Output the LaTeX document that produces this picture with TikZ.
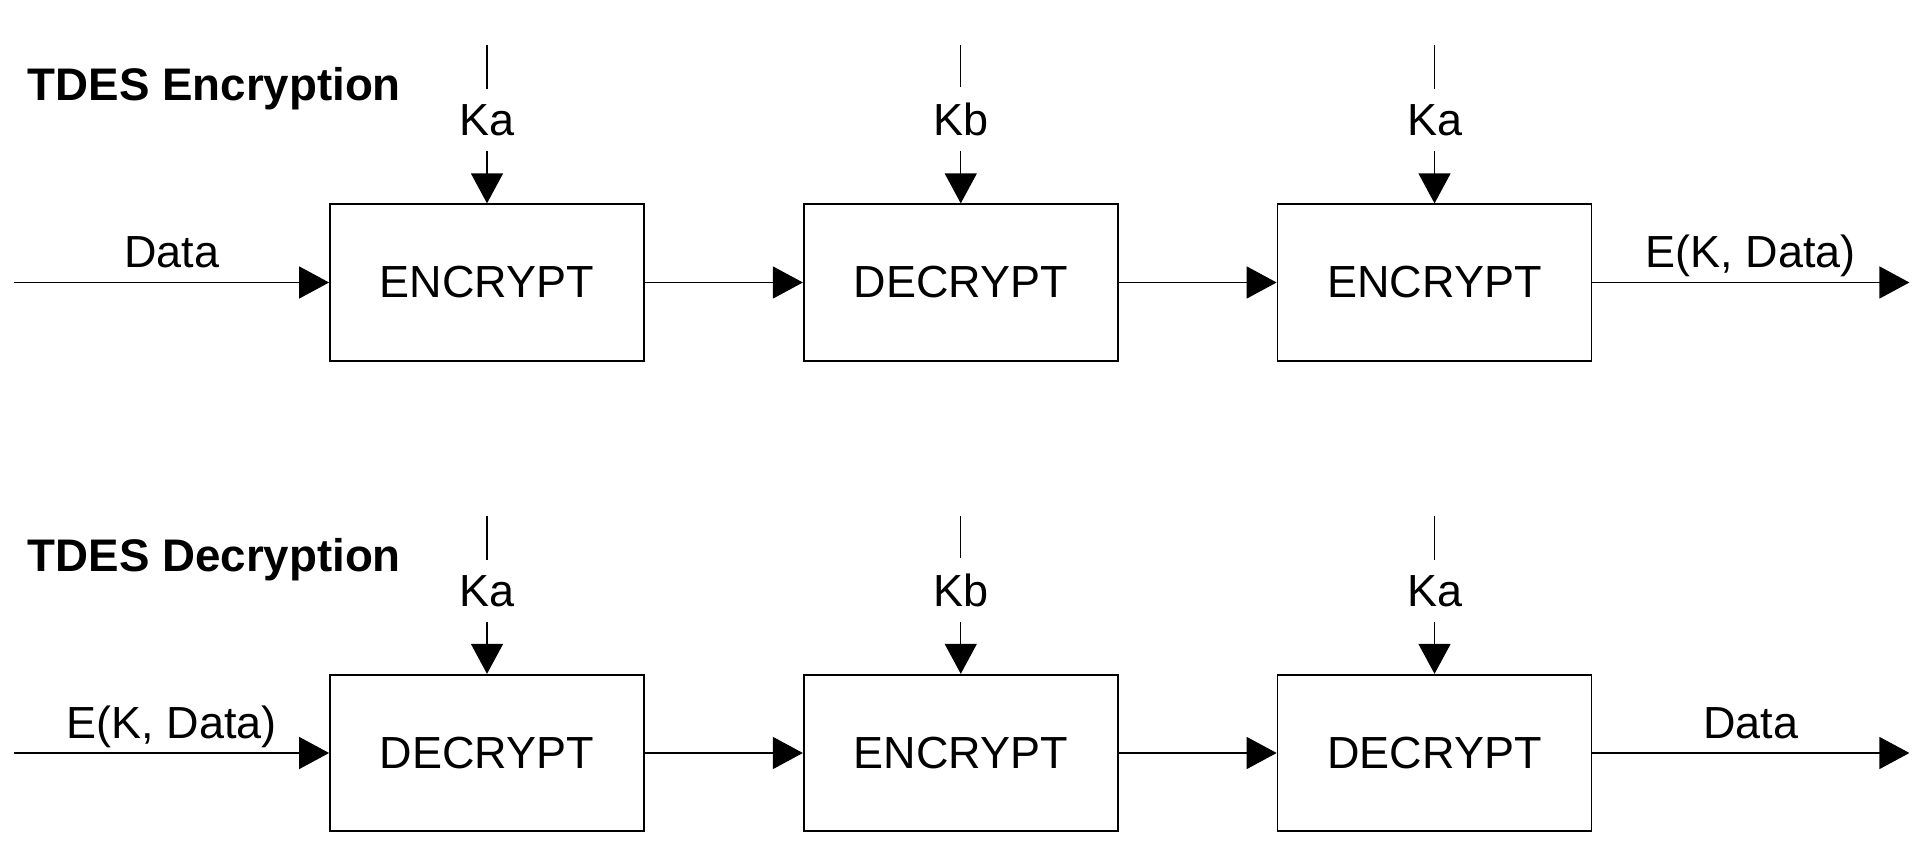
\documentclass[tikz,border=0pt]{standalone}
\usepackage{fontspec}
\setmainfont{Liberation Sans}
\usetikzlibrary{arrows.meta,positioning}
\tikzset{
  blk/.style={draw, line width=0.5pt, minimum width=3.14cm, minimum height=1.565cm, inner sep=0pt},
  arr/.style={line width=0.4pt, -{Triangle[length=3mm,width=3.2mm]}},
  keylbl/.style={inner xsep=0pt, inner ysep=0.15cm, text depth=0pt},
  lbl/.style={inner sep=0pt, text depth=0pt},
  ttl/.style={font=\fontsize{13}{15}\selectfont\bfseries, inner sep=0pt},
}
\begin{document}
\begin{tikzpicture}[font=\fontsize{12.8}{15}\selectfont, node distance=1.58cm]
    \useasboundingbox (0,0) rectangle (19.17,-8.61);
    % encryption row
    \node[ttl, anchor=base west] (ttlenc) at (0.27,-1.01) {TDES Encryption};
    \node[blk] (enc1) at (4.87,-2.825) {ENCRYPT};
    \node[blk, right=of enc1] (enc2) {DECRYPT};
    \node[blk, right=of enc2] (enc3) {ENCRYPT};
    \coordinate (encin) at ([xshift=-3.15cm]enc1.west);
    \coordinate (encout) at ([xshift=3.17cm]enc3.east);
    \draw[arr] (encin) -- node[lbl, above=0.14cm] {Data} (enc1);
    \draw[arr] (enc1) -- (enc2);
    \draw[arr] (enc2) -- (enc3);
    \draw[arr] (enc3) -- node[lbl, above=0.14cm] {E(K, Data)} (encout);
    % decryption row
    \node[ttl, anchor=base west] (ttldec) at (0.27,-5.72) {TDES Decryption};
    \node[blk] (dec1) at (4.87,-7.53) {DECRYPT};
    \node[blk, right=of dec1] (dec2) {ENCRYPT};
    \node[blk, right=of dec2] (dec3) {DECRYPT};
    \coordinate (decin) at ([xshift=-3.15cm]dec1.west);
    \coordinate (decout) at ([xshift=3.17cm]dec3.east);
    \draw[arr] (decin) -- node[lbl, above=0.14cm] {E(K, Data)} (dec1);
    \draw[arr] (dec1) -- (dec2);
    \draw[arr] (dec2) -- (dec3);
    \draw[arr] (dec3) -- node[lbl, above=0.14cm] {Data} (decout);
    % keys
    \foreach \b/\k in {enc1/Ka, enc2/Kb, enc3/Ka, dec1/Ka, dec2/Kb, dec3/Ka} {
        \node[keylbl, above=0.52cm of \b] (k\b) {\k};
        \coordinate (t\b) at ([yshift=1.58cm]\b.north);
        \draw[line width=0.4pt] (t\b) -- (k\b);
        \draw[arr] (k\b) -- (\b);
    }
\end{tikzpicture}
\end{document}
